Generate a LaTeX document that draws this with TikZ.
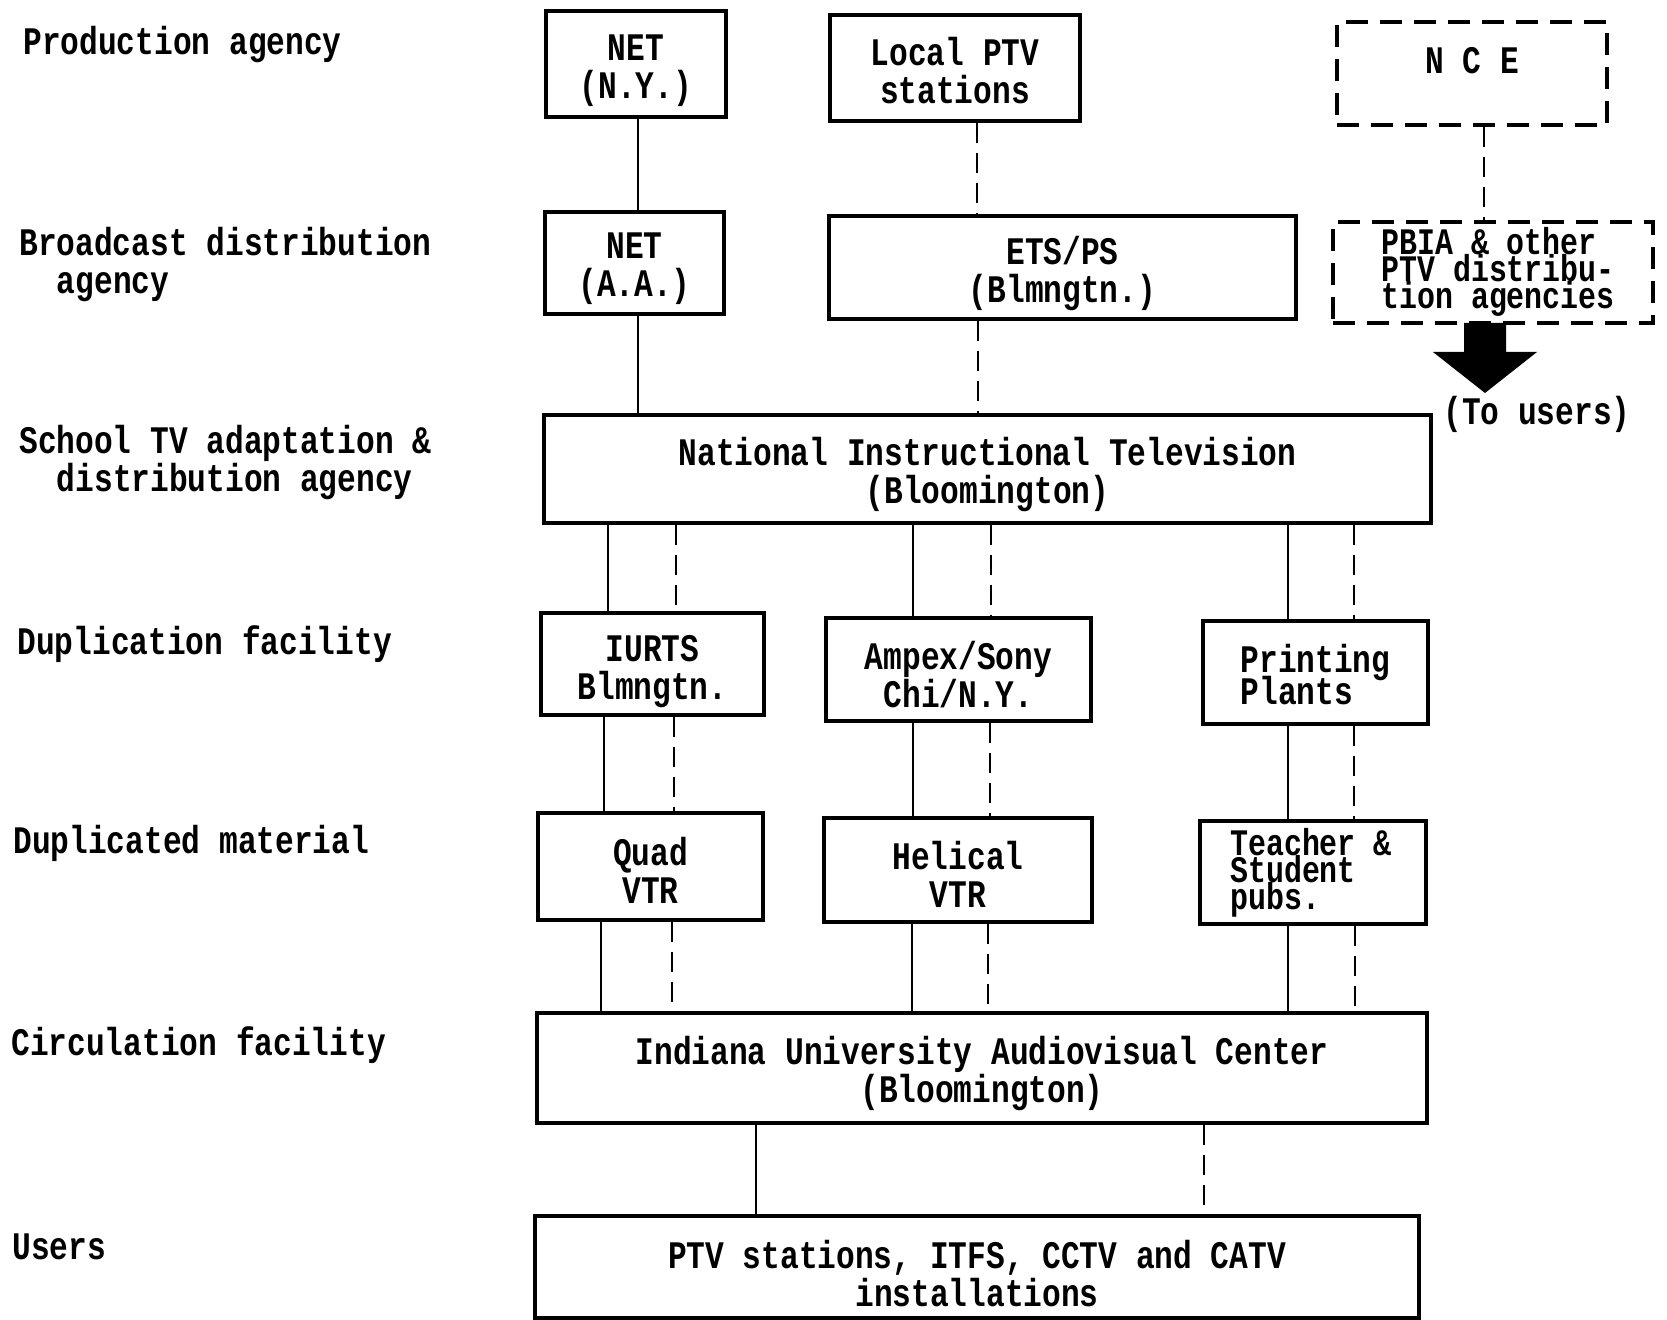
\documentclass[tikz,border=0pt]{standalone}
\usepackage{fontspec}
\setmainfont{Liberation Mono}[FakeStretch=0.8]
\newcommand\mytightsp{\lineskiplimit-100pt\relax\lineskip0pt\relax}
\begin{document}
\begin{tikzpicture}[x=0.5pt,y=-0.5pt,
  tw/.style={font=\fontsize{19.5}{19}\selectfont\bfseries},
  tight/.style={font={\fontsize{18.7}{13.5}\selectfont\bfseries\mytightsp}},
  lbl/.style={tw,align=left,anchor=west,inner sep=0pt},
  txt/.style={tw,align=center,inner sep=0pt},
  box/.style={draw,line width=1.6pt,inner sep=0pt},
  dbox/.style={box,dash pattern=on 11pt off 6pt},
  sline/.style={line width=1.4pt},
  dline/.style={line width=1.4pt,dash pattern=on 10pt off 5pt}]
\useasboundingbox (0,0) rectangle (1667,1320);
% row labels
\node[lbl] (l1) at (23,45) {Production agency};
\node[lbl] (l2) at (19,265) {Broadcast distribution\\\phantom{xx}agency};
\node[lbl] (l3) at (19,463) {School TV adaptation \&\\\phantom{xx}distribution agency};
\node[lbl] (l4) at (17,644) {Duplication facility};
\node[lbl] (l5) at (13,843) {Duplicated material};
\node[lbl] (l6) at (11,1045) {Circulation facility};
\node[lbl] (l7) at (12,1247) {Users};
% boxes
\node[box,minimum width=90pt,minimum height=53pt] (netny) at (636,64) {};
\node[box,minimum width=125pt,minimum height=53pt] (local) at (955,68) {};
\node[dbox,minimum width=135pt,minimum height=51.5pt] (nce) at (1472,73.5) {};
\node[box,minimum width=89.5pt,minimum height=51pt] (netaa) at (634.5,263) {};
\node[box,minimum width=233.5pt,minimum height=51.5pt] (ets) at (1062.5,267.5) {};
\node[dbox,minimum width=160pt,minimum height=50.5pt] (pbia) at (1493,272.5) {};
\node[box,minimum width=443.5pt,minimum height=54pt] (nit) at (987.5,469) {};
\node[box,minimum width=111.5pt,minimum height=51pt] (iurts) at (652.5,664) {};
\node[box,minimum width=132.5pt,minimum height=51.5pt] (ampex) at (958.5,669.5) {};
\node[box,minimum width=112.5pt,minimum height=51.5pt] (print) at (1315.5,672.5) {};
\node[box,minimum width=112.5pt,minimum height=53.5pt] (quad) at (650.5,866.5) {};
\node[box,minimum width=134pt,minimum height=52pt] (helical) at (958,870) {};
\node[box,minimum width=113pt,minimum height=51.5pt] (teacher) at (1313,872.5) {};
\node[box,minimum width=445pt,minimum height=55pt] (iuav) at (982,1068) {};
\node[box,minimum width=442pt,minimum height=51pt] (users) at (977,1267) {};
% box texts
\node[txt] (tnetny) at ([yshift=-3.2pt]netny.center) {NET\\(N.Y.)};
\node[txt] (tlocal) at ([yshift=-1.3pt]local.center) {Local PTV\\stations};
\node[txt] (tnce) at ([yshift=6.5pt]nce.center) {N C E};
\node[txt] (tnetaa) at ([yshift=-2.7pt]netaa.center) {NET\\(A.A.)};
\node[txt] (tets) at ([yshift=-3.2pt]ets.center) {ETS/PS\\(Blmngtn.)};
\node[txt,tight,align=left] (tpbia) at ([xshift=2.5pt,yshift=0.5pt]pbia.center) {PBIA \& other\\PTV distribu-\\tion agencies};
\node[txt] (tnit) at ([yshift=-2.7pt]nit.center) {National Instructional Television\\(Bloomington)};
\node[txt] (tiurts) at ([yshift=-3.7pt]iurts.center) {IURTS\\Blmngtn.};
\node[txt] (tampex) at ([yshift=-2.7pt]ampex.center) {Ampex/Sony\\Chi/N.Y.};
\node[txt,font={\fontsize{19.5}{16}\selectfont\bfseries\mytightsp},align=left] (tprint) at ([yshift=-1pt]print.center) {Printing\\Plants};
\node[txt] (tquad) at ([yshift=-2.1pt]quad.center) {Quad\\VTR};
\node[txt] (thelical) at ([yshift=-2.1pt]helical.center) {Helical\\VTR};
\node[txt,tight,align=left] (tteacher) at ([xshift=-1pt]teacher.center) {Teacher \&\\Student\\pubs.};
\node[txt] (tiuav) at ([yshift=-3pt]iuav.center) {Indiana University Audiovisual Center\\(Bloomington)};
\node[txt] (tusers) at ([yshift=-3.2pt]users.center) {PTV stations, ITFS, CCTV and CATV\\installations};
% big arrow to users
\fill[shift={(1485,323)}] (-21,0) -- (21,0) -- (21,29) -- (52,29) -- (0,70) -- (-52,29) -- (-21,29) -- cycle;
\node[tw,inner sep=0pt] (tousers) at (1537,414) {(To users)};
% connectors
\draw[sline] (638,0 |- netny.south) -- (638,0 |- netaa.north);
\draw[dline] (977,0 |- local.south) -- (977,0 |- ets.north);
\draw[dline] (1484,0 |- nce.south) -- (1484,0 |- pbia.north);
\draw[sline] (638,0 |- netaa.south) -- (638,0 |- nit.north);
\draw[dline] (978,0 |- ets.south) -- (978,0 |- nit.north);
\draw[sline] (608,0 |- nit.south) -- (608,0 |- iurts.north);
\draw[dline] (676,0 |- nit.south) -- (676,0 |- iurts.north);
\draw[sline] (913,0 |- nit.south) -- (913,0 |- ampex.north);
\draw[dline] (991,0 |- nit.south) -- (991,0 |- ampex.north);
\draw[sline] (1288,0 |- nit.south) -- (1288,0 |- print.north);
\draw[dline] (1354,0 |- nit.south) -- (1354,0 |- print.north);
\draw[sline] (604,0 |- iurts.south) -- (604,0 |- quad.north);
\draw[dline] (674,0 |- iurts.south) -- (674,0 |- quad.north);
\draw[sline] (913,0 |- ampex.south) -- (913,0 |- helical.north);
\draw[dline] (990,0 |- ampex.south) -- (990,0 |- helical.north);
\draw[sline] (1288,0 |- print.south) -- (1288,0 |- teacher.north);
\draw[dline] (1354,0 |- print.south) -- (1354,0 |- teacher.north);
\draw[sline] (601,0 |- quad.south) -- (601,0 |- iuav.north);
\draw[dline] (672,0 |- quad.south) -- (672,0 |- iuav.north);
\draw[sline] (912,0 |- helical.south) -- (912,0 |- iuav.north);
\draw[dline] (988,0 |- helical.south) -- (988,0 |- iuav.north);
\draw[sline] (1288,0 |- teacher.south) -- (1288,0 |- iuav.north);
\draw[dline] (1355,0 |- teacher.south) -- (1355,0 |- iuav.north);
\draw[sline] (756,0 |- iuav.south) -- (756,0 |- users.north);
\draw[dline] (1204,0 |- iuav.south) -- (1204,0 |- users.north);
\end{tikzpicture}
\end{document}
